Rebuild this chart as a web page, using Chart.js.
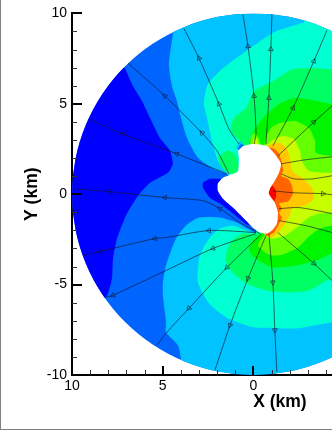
<!DOCTYPE html>
<html>
<head>
<meta charset="utf-8">
<style>html,body{margin:0;padding:0;background:#fff}canvas{display:block}</style>
<script src="https://cdn.jsdelivr.net/npm/chart.js@4"></script>
</head>
<body>
<canvas id="c" width="332" height="430"></canvas>
<script>
const xTitle = 'X (km)', yTitle = 'Y (km)';
const diskRadius = 10;

const levelColors = ['#0064ff','#0000ff','#0000ff','#00c3ff','#00ffd2','#00c3ff','#0064ff','#00ff64','#00ff64','#00f500','#64ff00','#64ff00','#c8ff00','#c8ff00','#ffc800','#ffc800','#ff6400','#ff0000','#ffffff'];

const base = [[12,12],[-6,12],[-6,-12],[12,-12]];
const blueLeft = [[7.08,6.97],[6.64,5.98],[6.14,5.15],[5.70,4.22],[5.15,3.11],[4.60,2.40],[4.44,1.68],[4.71,1.18],[5.70,0.63],[6.36,-0.08],[6.97,-1.07],[7.36,-2.01],[7.52,-2.45],[7.74,-3.55],[7.80,-4.66],[8.13,-5.70],[10,-7],[11,-5],[11,5],[9,8]];
const blueIsland = [[1.85,0.85],[2.40,0.85],[2.78,0.63],[2.78,0.36],[2.40,-0.19],[1.85,-0.52],[1.13,-1.07],[0.36,-1.68],[0.03,-1.74],[1.02,0.19]];
const cyanRegion = [[4.44,8.84],[4.66,7.19],[4.49,5.98],[4.22,5.15],[3.99,4.22],[3.66,3.11],[3.06,2.01],[2.23,1.41],[1.29,1.02],[0.19,-0.08],[-0.19,-2.12],[0.91,-1.57],[1.85,-1.29],[3.00,-1.29],[3.72,-1.74],[4.27,-2.45],[4.82,-3.94],[4.99,-4.88],[4.99,-5.59],[4.82,-7.08],[4.82,-7.63],[4.16,-8.35],[3.99,-9.12],[3.9,-11],[-6,-11],[-6,11],[4.2,11]];
const tealRegion = [[-2.78,9.50],[-1.24,9.01],[0.41,7.91],[1.68,6.97],[2.51,6.09],[2.73,4.99],[2.56,4.22],[2.29,2.95],[1.96,1.85],[1.46,1.18],[0.47,-0.08],[-0.14,-2.12],[1.13,-1.74],[1.85,-1.90],[2.40,-2.40],[2.78,-3.00],[3.00,-3.55],[3.06,-4.88],[2.45,-6.03],[1.52,-6.80],[0.03,-7.36],[-1.24,-7.41],[-2.51,-7.41],[-4.33,-7.08],[-6,-7],[-6,11],[-3,11]];
const cyanPocket = [[0.96,2.51],[0.80,2.89],[0.41,2.95],[0.41,2.40]];
const bluePocket = [[0.85,2.45],[0.74,2.73],[0.52,2.73],[0.52,2.40]];
const springRegion = [[-4.33,6.92],[-3.28,6.97],[-2.18,6.92],[-1.07,6.25],[-0.03,5.70],[0.41,4.77],[1.07,4.22],[1.24,3.50],[0.74,2.95],[0.47,2.62],[-0.08,0.19],[-0.25,-2.12],[0.58,-2.18],[1.18,-2.56],[1.46,-3.11],[1.52,-3.66],[1.35,-4.10],[0.85,-4.60],[0.41,-4.93],[-0.69,-5.32],[-1.96,-5.43],[-3.06,-5.32],[-4.33,-4.66],[-6,-4.66],[-6,6.92]];
const springIsland = [[1.96,2.01],[1.46,2.40],[1.02,2.23],[0.80,1.57],[0.91,1.13],[1.40,1.18],[1.79,1.52]];
const greenRegion = [[0.30,2.62],[0.19,2.95],[-0.08,3.61],[-0.63,4.33],[-1.41,4.99],[-2.29,5.32],[-3.22,5.21],[-4.33,4.99],[-6,4.99],[-6,-3.28],[-4.33,-3.28],[-3.50,-3.66],[-2.40,-3.94],[-1.07,-4.05],[-0.47,-3.77],[0.08,-3.39],[0.25,-2.95],[-0.08,-2.45],[-0.47,-2.12],[-0.25,0.19]];
const limeRegion = [[-0.58,2.67],[-0.74,3.28],[-1.02,3.72],[-1.46,3.94],[-2.29,4.05],[-3.06,3.66],[-3.39,2.95],[-3.44,2.29],[-4.33,2.12],[-6,2.12],[-6,-1.74],[-4.33,-1.74],[-3.66,-1.90],[-3.06,-2.34],[-2.45,-2.95],[-1.63,-3.33],[-1.07,-3.39],[-0.63,-3.22],[-0.25,-2.84],[-0.36,-2.56],[-0.63,-2.23],[-0.47,0.19]];
const limeFinger = [[0.19,2.62],[0.14,3.17],[-0.08,3.39],[-0.30,3.11],[-0.41,2.62]];
const yellowFinger = [[0.08,2.62],[-0.03,3.06],[-0.19,3.06],[-0.30,2.62]];
const yellowRegion = [[-0.63,2.62],[-1.02,2.95],[-1.57,3.22],[-2.23,3.06],[-2.56,2.40],[-2.67,1.85],[-3.06,1.29],[-4.33,1.18],[-6,1.18],[-6,-1.02],[-4.33,-1.02],[-3.61,-1.07],[-3.06,-1.29],[-2.51,-1.74],[-1.74,-2.29],[-1.18,-2.45],[-0.69,-2.34],[-0.47,0.19]];
const amberFinger = [[0.03,2.62],[-0.08,2.89],[-0.19,2.62]];
const amberRegion = [[-0.69,2.62],[-1.02,2.78],[-1.46,2.84],[-1.85,2.51],[-2.01,1.96],[-2.12,1.40],[-2.23,1.18],[-2.67,0.91],[-3.22,0.36],[-3.33,-0.25],[-2.84,-0.63],[-2.12,-0.80],[-2.01,-1.18],[-1.74,-1.63],[-1.46,-2.01],[-1.02,-2.40],[-0.63,-2.29],[-0.47,0.19]];
const orangeRegion = [[-0.74,2.62],[-1.13,2.51],[-1.41,2.23],[-1.57,1.74],[-1.63,1.29],[-1.52,1.02],[-1.90,0.85],[-2.12,0.47],[-2.18,0.03],[-1.90,-0.41],[-1.41,-0.52],[-1.57,-0.80],[-1.41,-1.02],[-1.57,-1.29],[-1.41,-1.63],[-1.13,-2.12],[-0.69,-2.29],[-0.47,0.19]];
const redRegion = [[-1.02,0.52],[-1.24,0.19],[-1.24,-0.19],[-1.02,-0.47],[-0.47,0.03]];
const holeOutline = [[0.58,2.67],[0.03,2.78],[-0.74,2.67],[-1.18,2.23],[-1.52,1.68],[-1.41,1.18],[-1.18,0.74],[-0.91,0.30],[-0.85,0.03],[-1.18,-0.47],[-1.35,-1.02],[-1.29,-1.63],[-1.02,-2.01],[-0.74,-2.18],[-0.36,-2.12],[0.03,-1.85],[0.58,-1.29],[1.13,-0.74],[1.68,-0.25],[1.96,0.19],[1.96,0.58],[1.68,0.91],[1.13,1.13],[0.85,1.29],[0.80,1.96],[0.85,2.40]];

const line1 = [[0.80,2.78],[1.35,3.61],[1.90,4.99],[3.00,7.52],[3.83,9.17]];
const line2 = [[-0.03,2.78],[-0.14,3.33],[-0.03,5.43],[0.30,8.18],[0.58,9.95]];
const line3 = [[-0.69,2.78],[-0.85,5.32],[-0.96,8.02],[-1.02,9.95]];
const line4 = [[-1.07,2.67],[-2.18,4.77],[-3.33,7.36],[-4.05,9.06]];
const line5 = [[-1.35,2.12],[-3.33,3.99],[-4.33,4.88]];
const line6 = [[-1.52,1.68],[-2.84,1.90],[-4.33,2.07]];
const line7 = [[-1.52,1.13],[-2.23,0.85],[-3.28,0.85],[-4.33,1.02]];
const line8 = [[-1.07,0.19],[-2.18,0.08],[-3.83,0.03],[-4.33,-0.03]];
const line9 = [[-1.41,-0.80],[-2.51,-0.74],[-4.33,-1.07]];
const line10 = [[-1.41,-1.46],[-2.89,-1.74],[-4.33,-2.12]];
const line11 = [[-1.35,-2.12],[-3.33,-3.83],[-4.33,-4.77]];
const line12 = [[-0.85,-2.18],[-1.07,-4.88],[-1.18,-7.52],[-1.29,-9.84]];
const line13 = [[-0.69,-2.29],[0.30,-4.66],[1.29,-7.25],[2.12,-9.73]];
const line14 = [[-0.41,-2.23],[1.46,-4.05],[3.55,-6.31],[4.82,-7.69],[5.32,-8.35]];
const line15 = [[-0.14,-2.18],[2.23,-3.00],[4.82,-4.22],[7.74,-5.59],[8.13,-5.70]];
const line16 = [[-0.14,-2.12],[2.45,-2.01],[4.82,-2.40],[5.43,-2.45],[8.46,-3.17],[9.39,-3.39]];
const line17 = [[-0.36,-2.18],[0.74,-1.57],[1.85,-0.80],[2.78,-0.36],[4.88,-0.19],[7.91,0.14],[9.95,0.30]];
const line18 = [[1.46,1.13],[4.22,2.23],[7.19,3.33],[9.12,4.16]];
const line19 = [[1.35,1.13],[2.01,2.40],[2.84,3.39],[4.88,5.43],[6.91,7.25]];

const regions = [base,blueLeft,blueIsland,cyanRegion,tealRegion,cyanPocket,bluePocket,springRegion,springIsland,greenRegion,limeRegion,limeFinger,yellowRegion,yellowFinger,amberRegion,amberFinger,orangeRegion,redRegion,holeOutline];
const streamlines = [
  [line1,[2,3]],[line2,[2,3]],[line3,[1,2]],[line4,[1,2]],[line5,[1]],[line6,[]],[line7,[]],[line8,[2]],[line9,[]],[line10,[]],
  [line11,[1]],[line12,[1,2]],[line13,[1,2]],[line14,[1,2]],[line15,[1,3]],[line16,[1,3,4]],[line17,[2,4,5]],[line18,[1,2]],[line19,[2,3]]
];

const ink = 'rgba(20,20,40,0.8)';
const regionSets = regions.map((r,i)=>({
  data:r.map(p=>({x:p[0],y:p[1]})),
  showLine:true,fill:'shape',backgroundColor:levelColors[i],borderWidth:0,pointRadius:0,pointHoverRadius:0,tension:i?0.2:0
}));
const lineSets = streamlines.map(([l,arrows])=>({
  data:l.map(p=>({x:p[0],y:p[1]})),
  showLine:true,fill:false,borderColor:ink,borderWidth:0.8,tension:0.25,
  pointStyle:'triangle',
  pointRadius:c=>arrows.includes(c.dataIndex)?2.8:0,
  pointHoverRadius:0,
  pointBackgroundColor:'rgba(0,0,0,0)',
  pointBorderColor:ink,
  pointBorderWidth:0.7,
  pointRotation:c=>{
    const i=c.dataIndex,a=l[Math.max(i-1,0)],b=l[Math.min(i+1,l.length-1)];
    return Math.atan2(-(b[0]-a[0]),b[1]-a[1])*180/Math.PI;
  }
}));

const diskClip = {
  id:'diskClip',
  beforeDatasetsDraw(chart){
    const {x,y}=chart.scales,ctx=chart.ctx;
    ctx.save();
    ctx.beginPath();
    ctx.ellipse(x.getPixelForValue(0),y.getPixelForValue(0),
      Math.abs(x.getPixelForValue(diskRadius)-x.getPixelForValue(0)),
      Math.abs(y.getPixelForValue(diskRadius)-y.getPixelForValue(0)),0,0,Math.PI*2);
    ctx.clip();
  },
  afterDatasetsDraw(chart){chart.ctx.restore();}
};
const axisMarks = {
  id:'axisMarks',
  afterDraw(chart){
    const {x,y}=chart.scales,ctx=chart.ctx;
    ctx.save();
    x.ticks.forEach(t=>{
      const major=t.value%5===0,p=Math.round(x.getPixelForValue(t.value));
      ctx.fillStyle=major?'#000':'#333';
      const w=major?2:1,l=major?9:5;
      ctx.fillRect(p-Math.floor(w/2),x.top-l,w,l);
    });
    y.ticks.forEach(t=>{
      const major=t.value%5===0,p=Math.round(y.getPixelForValue(t.value));
      ctx.fillStyle=major?'#000':'#333';
      const w=major?2:1,l=major?10:5;
      ctx.fillRect(y.right,p-Math.floor(w/2),l,w);
    });
    ctx.fillStyle='#000';
    ctx.font='bold 17.5px "Liberation Sans"';
    ctx.textAlign='center';
    ctx.textBaseline='alphabetic';
    ctx.fillText(xTitle,x.getPixelForValue(-1.46),x.top+32);
    ctx.fillStyle='#808080';
    ctx.fillRect(0,0,1,chart.height);
    ctx.fillRect(0,chart.height-1,chart.width,1);
    ctx.restore();
  }
};

const labelFive = v => v%5===0 ? String(v) : '';
new Chart(document.getElementById('c'),{
  type:'scatter',
  data:{datasets:[...regionSets,...lineSets].reverse()},
  plugins:[diskClip,axisMarks],
  options:{
    responsive:false,animation:false,
    layout:{padding:{top:12,right:0,left:0,bottom:0}},
    plugins:{legend:{display:false},tooltip:{enabled:false}},
    scales:{
      x:{type:'linear',reverse:true,min:-4.33,max:10,
        afterFit:s=>{s.height=55},
        border:{display:true,color:'#000',width:2},
        grid:{drawOnChartArea:false,drawTicks:false},
        ticks:{stepSize:1,includeBounds:false,autoSkip:false,maxRotation:0,padding:3,color:'#000',
          font:{family:'"Liberation Sans"',size:14},callback:labelFive}},
      y:{type:'linear',min:-10,max:10,
        afterFit:s=>{s.width=72},
        border:{display:true,color:'#000',width:2},
        grid:{drawOnChartArea:false,drawTicks:false},
        title:{display:true,text:yTitle,color:'#000',padding:{top:22,bottom:0},
          font:{family:'"Liberation Sans"',size:17.5,weight:'bold'}},
        ticks:{stepSize:1,autoSkip:false,padding:5,color:'#000',
          font:{family:'"Liberation Sans"',size:14},callback:labelFive}}
    }
  }
});
</script>
</body>
</html>
